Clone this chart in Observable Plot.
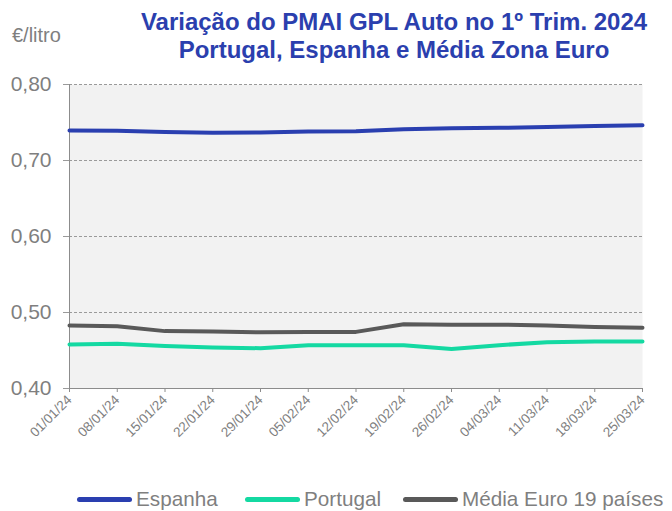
<!DOCTYPE html>
<html>
<head>
<meta charset="utf-8">
<script src="https://cdn.jsdelivr.net/npm/d3@7"></script>
<script src="https://cdn.jsdelivr.net/npm/@observablehq/plot@0.6"></script>
<style>
  html, body { margin: 0; padding: 0; background: #ffffff; }
  body { width: 672px; height: 511px; position: relative; overflow: hidden; font-family: "Liberation Sans", Arial, sans-serif; }
  #unit { position: absolute; left: 12px; top: 24px; font-size: 20px; color: #7f7f7f; }
  #title { position: absolute; left: 120px; width: 548px; top: 8px; text-align: center; font-weight: bold; font-size: 24px; line-height: 28px; color: #2b3fae; }
  #chart { position: absolute; left: 0; top: 70px; }
  #legend { position: absolute; top: 487px; left: 0; width: 672px; height: 24px; font-size: 20.7px; color: #7f7f7f; }
  .item { position: absolute; top: 0; display: flex; align-items: center; height: 24px; }
  .sw { width: 55px; height: 5px; border-radius: 3px; margin-right: 4px; }
</style>
</head>
<body>
<div id="unit">€/litro</div>
<div id="title">Variação do PMAI GPL Auto no 1º Trim. 2024<br>Portugal, Espanha e Média Zona Euro</div>
<div id="chart"></div>
<div id="legend"></div>
<script>
const dates = ["01/01/24","08/01/24","15/01/24","22/01/24","29/01/24","05/02/24","12/02/24","19/02/24","26/02/24","04/03/24","11/03/24","18/03/24","25/03/24"];
const espanha = [0.7395,0.739,0.7375,0.7365,0.737,0.738,0.7385,0.741,0.7425,0.743,0.744,0.7455,0.7465];
const portugal = [0.458,0.459,0.456,0.454,0.453,0.457,0.457,0.457,0.452,0.457,0.461,0.462,0.462];
const mediaEuro = [0.483,0.482,0.4755,0.475,0.474,0.4745,0.4745,0.4845,0.484,0.484,0.483,0.481,0.480];
const yTicks = [0.40,0.50,0.60,0.70,0.80];
const seriesNames = ["Espanha","Portugal","Média Euro 19 países"];
const seriesColors = ["#2a3fb0","#14d9a2","#595959"];

const seriesValues = [espanha, portugal, mediaEuro];
const rows = [];
seriesNames.forEach((s, k) => dates.forEach((d, i) => rows.push({date: d, value: seriesValues[k][i], serie: s})));

const fmt = d => d.toFixed(2).replace(".", ",");

const plot = Plot.plot({
  width: 672,
  height: 400,
  marginTop: 14,
  marginLeft: 69,
  marginRight: 30,
  marginBottom: 82,
  style: {fontFamily: "'Liberation Sans', Arial, sans-serif", background: "transparent", overflow: "visible"},
  x: {type: "point", domain: dates, padding: 0, round: false},
  y: {domain: [0.4, 0.8]},
  color: {domain: seriesNames, range: seriesColors},
  marks: [
    Plot.frame({fill: "#f2f2f2", stroke: null}),
    Plot.gridY(yTicks.filter(t => t > 0.4), {stroke: "#9a9a9a", strokeOpacity: 1, strokeDasharray: "3,2"}),
    Plot.axisY({ticks: yTicks, tickFormat: fmt, tickSize: 6, tickPadding: 12, fontSize: 21, fill: "#7f7f7f", stroke: "#9a9a9a", label: null}),
    Plot.ruleX([dates[0]], {stroke: "#8c8c8c"}),
    Plot.ruleY([0.4], {stroke: "#8c8c8c"}),
    Plot.axisX({tickRotate: -45, tickSize: 4, tickPadding: 5, fontSize: 13.5, fill: "#7f7f7f", stroke: "#8c8c8c", label: null}),
    Plot.line(rows, {x: "date", y: "value", z: "serie", stroke: "serie", strokeWidth: 4, strokeLinecap: "round", strokeLinejoin: "round"})
  ]
});
document.getElementById("chart").appendChild(plot);

const legend = document.getElementById("legend");
const lefts = [77, 245, 403];
seriesNames.forEach((s, i) => {
  const it = document.createElement("div");
  it.className = "item";
  it.style.left = lefts[i] + "px";
  it.innerHTML = `<div class="sw" style="background:${seriesColors[i]}"></div><span>${s}</span>`;
  legend.appendChild(it);
});
</script>
</body>
</html>
